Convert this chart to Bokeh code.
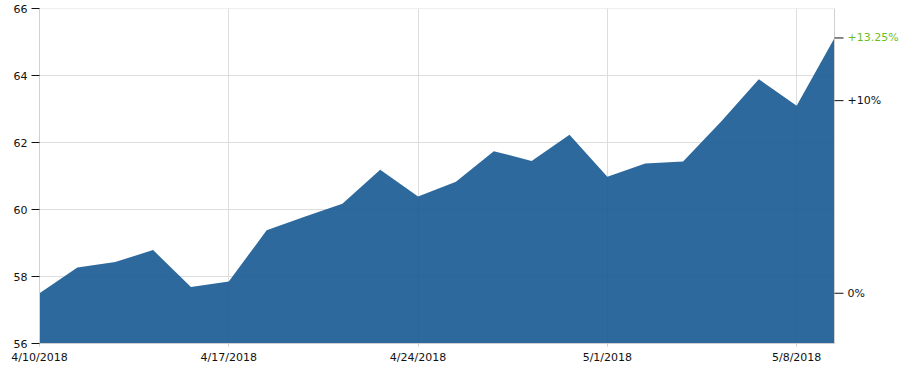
from bokeh.plotting import figure
from bokeh.models import FixedTicker, Range1d, ColumnDataSource
from bokeh.core.properties import value
from bokeh.embed import file_html
from bokeh.resources import INLINE

dates = ["4/10/2018", "4/11/2018", "4/12/2018", "4/13/2018", "4/16/2018",
         "4/17/2018", "4/18/2018", "4/19/2018", "4/20/2018", "4/23/2018",
         "4/24/2018", "4/25/2018", "4/26/2018", "4/27/2018", "4/30/2018",
         "5/1/2018", "5/2/2018", "5/3/2018", "5/4/2018", "5/7/2018",
         "5/8/2018", "5/9/2018"]
prices = [57.50, 58.27, 58.43, 58.79, 57.69, 57.85, 59.38, 59.78, 60.17, 61.19,
          60.39, 60.83, 61.74, 61.45, 62.23, 60.98, 61.37, 61.43, 62.62, 63.89,
          63.10, 65.12]
date_ticks = [0, 5, 10, 15, 20]
y_ticks = [56, 58, 60, 62, 64, 66]
y_min, y_max = 56, 66
pct_levels = [0, 10]

FONT = "DejaVu Sans"
FS = "11px"
TXT = "#111111"
AXIS_GRAY = "#d0d0d0"
GRID = "#dddddd"
GREEN = "#6abf1f"

# layout (pixels)
W = 910
FRAME_L = 39
LAST_PX = 834

idx = list(range(len(dates)))
last_i = idx[-1]
x_end = last_i * (W - FRAME_L) / (LAST_PX - FRAME_L)

src = ColumnDataSource(dict(x=idx, y=prices, base=[y_min] * len(idx)))

p = figure(width=W, height=366, output_backend="svg", toolbar_location=None,
           x_range=Range1d(0, x_end), y_range=Range1d(y_min, y_max),
           min_border_left=FRAME_L, min_border_right=0, min_border_top=8, min_border_bottom=0)
p.outline_line_color = None
p.background_fill_color = "white"
p.border_fill_color = "white"

# horizontal grid lines (stop at the last data point)
p.segment(x0=[0] * len(y_ticks), x1=[last_i] * len(y_ticks), y0=y_ticks, y1=y_ticks,
          line_color=GRID, line_width=1)
p.ygrid.visible = False

# vertical grid
p.xgrid.ticker = FixedTicker(ticks=date_ticks)
p.xgrid.grid_line_color = GRID

# area
p.varea(x="x", y1="base", y2="y", source=src, fill_color="#175993", fill_alpha=0.9)

# bottom axis
xa = p.xaxis[0]
xa.ticker = FixedTicker(ticks=date_ticks)
xa.bounds = (0, last_i)
xa.major_label_overrides = {i: dates[i] for i in date_ticks}
xa.axis_line_color = AXIS_GRAY
xa.major_tick_line_color = AXIS_GRAY
xa.major_tick_out = 3
xa.major_tick_in = 0
xa.minor_tick_line_color = None
xa.major_label_standoff = 4
xa.major_label_text_font = FONT
xa.major_label_text_font_size = FS
xa.major_label_text_color = TXT

# left axis
ya = p.yaxis[0]
ya.ticker = FixedTicker(ticks=y_ticks)
ya.axis_line_color = AXIS_GRAY
ya.major_tick_line_color = TXT
ya.major_tick_out = 8
ya.major_tick_in = 0
ya.minor_tick_line_color = None
ya.major_label_standoff = 4
ya.major_label_text_font = FONT
ya.major_label_text_font_size = FS
ya.major_label_text_color = TXT

# right percent scale, drawn at the last data point
base = prices[0]
last = prices[-1]
pct_last = (last / base - 1) * 100
r_vals = [base * (1 + q / 100) for q in pct_levels] + [last]
r_text = [("+" if q > 0 else "") + f"{q}%" for q in pct_levels] + [f"+{pct_last:.2f}%"]
r_cols = [TXT] * len(pct_levels) + [GREEN]
rsrc = ColumnDataSource(dict(x=[last_i] * len(r_vals), y=r_vals, t=r_text, c=r_cols))

p.segment(x0=[last_i], x1=[last_i], y0=[y_min], y1=[y_max], line_color=AXIS_GRAY, line_width=1)
p.ray(x="x", y="y", length=9, length_units="screen", angle=0, source=rsrc,
      line_color=TXT, line_width=1)
p.text(x="x", y="y", text="t", text_color="c", source=rsrc, x_offset=13,
       text_font=value(FONT), text_font_size=value(FS),
       text_baseline="middle", text_align="left")

open("out.html", "w").write(file_html(p, INLINE))
